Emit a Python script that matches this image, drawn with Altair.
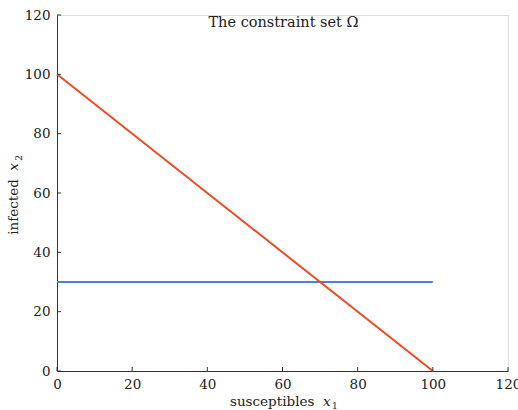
import altair as alt
import pandas as pd

# data
red_x = [0, 100]
red_y = [100, 0]
blue_x = [0, 100]
blue_y = [30, 30]
ticks = [0, 20, 40, 60, 80, 100, 120]

RED = "#F04B25"
BLUE = "#4A84CC"
FONT = "DejaVu Serif"
W, H = 451, 356

red_df = pd.DataFrame({"x": red_x, "y": red_y})
blue_df = pd.DataFrame({"x": blue_x, "y": blue_y})
tick_df = pd.DataFrame({"t": ticks})

xs = alt.Scale(domain=[0, 120], nice=False)
ys = alt.Scale(domain=[0, 120], nice=False)

xaxis = alt.Axis(values=ticks, tickSize=0, labelPadding=6, title=None, grid=False,
                 domainColor="#333333", labelFont=FONT, labelFontSize=13.5, labelColor="#222222",
                 labelFlush=False)
yaxis = alt.Axis(values=ticks, tickSize=0, labelPadding=7, title=None, grid=False,
                 domainColor="#333333", labelFont=FONT, labelFontSize=13.5, labelColor="#222222")

base_axes = alt.Chart(tick_df).mark_point(opacity=0).encode(
    x=alt.X("t:Q", scale=xs, axis=xaxis),
    y=alt.Y("t:Q", scale=ys, axis=yaxis),
)

xticks = alt.Chart(tick_df).mark_rule(color="#333333", strokeWidth=1).encode(
    x=alt.X("t:Q", scale=xs), y=alt.value(H), y2=alt.value(H - 4)
)
yticks = alt.Chart(tick_df).mark_rule(color="#333333", strokeWidth=1).encode(
    y=alt.Y("t:Q", scale=ys), x=alt.value(0), x2=alt.value(4)
)

blue = alt.Chart(blue_df).mark_line(color=BLUE, strokeWidth=2).encode(
    x=alt.X("x:Q", scale=xs), y=alt.Y("y:Q", scale=ys)
)
red = alt.Chart(red_df).mark_line(color=RED, strokeWidth=2).encode(
    x=alt.X("x:Q", scale=xs), y=alt.Y("y:Q", scale=ys)
)

def txt(s, x, y, size=13.5, style="normal", angle=0, align="left"):
    return alt.Chart(pd.DataFrame({"s": [s]})).mark_text(
        font=FONT, fontSize=size, fontStyle=style, color="#222222", angle=angle,
        align=align, baseline="alphabetic"
    ).encode(text="s:N", x=alt.value(x), y=alt.value(y))

title = txt("The constraint set Ω", W / 2 + 1, 12, size=14.5, align="center")
xl1 = txt("susceptibles", 173, 391)
xl2 = txt("x", 266, 391, style="italic")
xl3 = txt("1", 275, 394, size=9)
yl1 = txt("infected", -39, 192, angle=270, align="center")
yl2 = txt("x", -39, 152, style="italic", angle=270, align="center")
yl3 = txt("2", -35, 143, size=9, angle=270, align="center")

chart = alt.layer(base_axes, blue, red, xticks, yticks, title,
                  xl1, xl2, xl3, yl1, yl2, yl3).properties(
    width=W, height=H,
    autosize=alt.AutoSizeParams(type="none"),
    padding={"left": 57, "top": 15, "right": 10, "bottom": 39},
).configure_view(stroke=None).configure(background="white")

chart.save("out.html", embed_options={"renderer": "svg", "actions": False})
